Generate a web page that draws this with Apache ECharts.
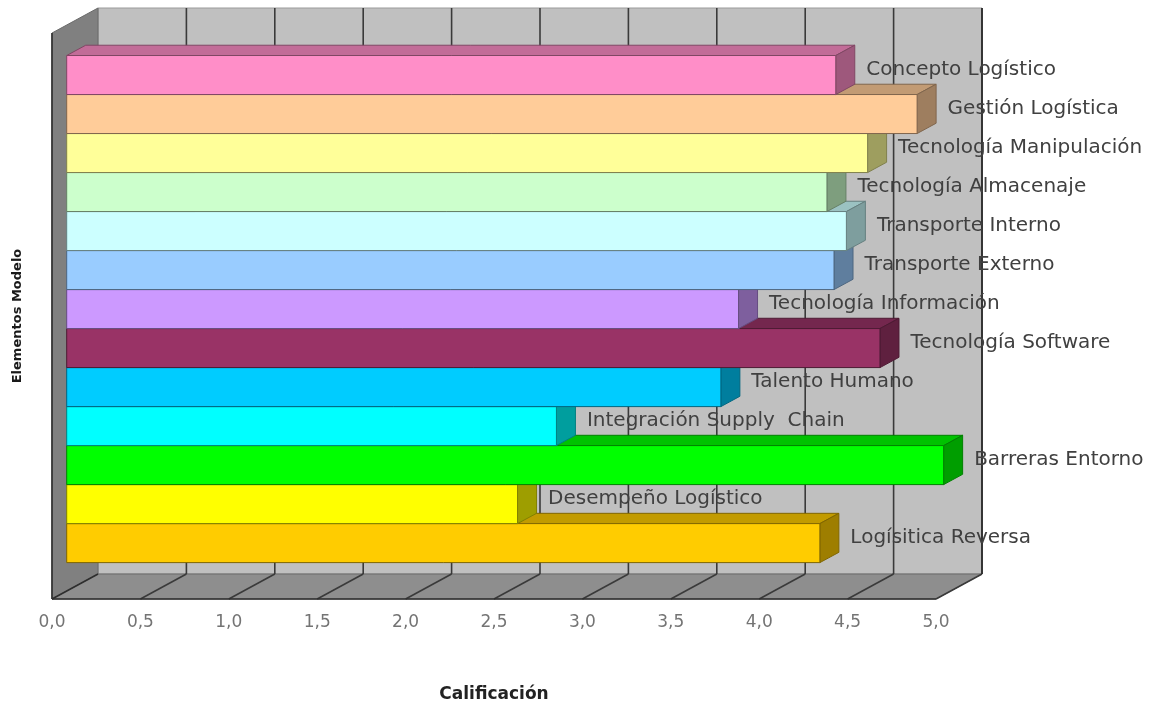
<!DOCTYPE html>
<html>
<head>
<meta charset="utf-8">
<script src="https://cdn.jsdelivr.net/npm/echarts@6.0.0/dist/echarts.min.js"></script>
<style>
  html, body { margin: 0; padding: 0; background: #ffffff; }
  #main { width: 1166px; height: 708px; }
</style>
</head>
<body>
<div id="main"></div>
<script>
// Model elements (top to bottom) and their ratings
const categories = [
  'Concepto Logístico',
  'Gestión Logística',
  'Tecnología Manipulación',
  'Tecnología Almacenaje',
  'Transporte Interno',
  'Transporte Externo',
  'Tecnología Información',
  'Tecnología Software',
  'Talento Humano',
  'Integración Supply  Chain',
  'Barreras Entorno',
  'Desempeño Logístico',
  'Logísitica Reversa'
];
const scores = [4.35, 4.81, 4.53, 4.30, 4.41, 4.34, 3.80, 4.60, 3.70, 2.77, 4.96, 2.55, 4.26];
const barColors = [
  '#ff8ec8', '#ffcc99', '#ffff99', '#ccffcc', '#ccffff', '#99ccff', '#cc99ff',
  '#993366', '#00ccff', '#00ffff', '#00ff00', '#ffff00', '#ffcc00'
];
// value-axis ticks (0,0 … 5,0)
const xTicks = [0, 0.5, 1, 1.5, 2, 2.5, 3, 3.5, 4, 4.5, 5];

// 3D box geometry (pixel offsets for depth)
const Y_MIN = -1.28, Y_MAX = 13.23;
const WALL = { dx: 46, dy: -25 };       // back plane offset from the front plane
const FRONT = { dx: 14.7, dy: -7.9 };   // bar front faces
const BAR_DEPTH = { dx: 19, dy: -10.3 };// bar thickness in depth

function shade(hex, k) {
  const n = parseInt(hex.slice(1), 16);
  const r = Math.round(((n >> 16) & 255) * k);
  const g = Math.round(((n >> 8) & 255) * k);
  const b = Math.round((n & 255) * k);
  return 'rgb(' + r + ',' + g + ',' + b + ')';
}

const chart = echarts.init(document.getElementById('main'), null, { renderer: 'canvas' });

const wallSeries = {
  type: 'custom',
  silent: true,
  z: 1,
  clip: false,
  data: [[0, 0]],
  renderItem: function (params, api) {
    const f = (v, y) => api.coord([v, y]);
    const b = (v, y) => { const p = api.coord([v, y]); return [p[0] + WALL.dx, p[1] + WALL.dy]; };
    const xMax = xTicks[xTicks.length - 1];
    const children = [];
    // back wall
    children.push({ type: 'polygon', z2: 1,
      shape: { points: [b(0, Y_MIN), b(xMax, Y_MIN), b(xMax, Y_MAX), b(0, Y_MAX)] },
      style: { fill: '#c0c0c0', stroke: '#9a9a9a', lineWidth: 1 } });
    // left side wall
    children.push({ type: 'polygon', z2: 1,
      shape: { points: [f(0, Y_MIN), b(0, Y_MIN), b(0, Y_MAX), f(0, Y_MAX)] },
      style: { fill: '#808080', stroke: '#6a6a6a', lineWidth: 1 } });
    // floor
    children.push({ type: 'polygon', z2: 1,
      shape: { points: [f(0, Y_MAX), b(0, Y_MAX), b(xMax, Y_MAX), f(xMax, Y_MAX)] },
      style: { fill: '#8e8e8e', stroke: '#6a6a6a', lineWidth: 1 } });
    // gridlines on back wall and floor
    xTicks.forEach(function (v) {
      if (v === 0) return;
      const t = b(v, Y_MIN), u = b(v, Y_MAX), w = f(v, Y_MAX);
      children.push({ type: 'line', z2: 2,
        shape: { x1: t[0], y1: t[1], x2: u[0], y2: u[1] },
        style: { stroke: '#3a3a3a', lineWidth: 1.6 } });
      children.push({ type: 'line', z2: 2,
        shape: { x1: u[0], y1: u[1], x2: w[0], y2: w[1] },
        style: { stroke: '#3a3a3a', lineWidth: 1.6 } });
    });
    // dark box edges
    const edges = [
      [f(0, Y_MIN), f(0, Y_MAX)],
      [f(0, Y_MAX), f(xMax, Y_MAX)],
      [b(0, Y_MAX), f(0, Y_MAX)],
      [b(xMax, Y_MIN), b(xMax, Y_MAX)]
    ];
    edges.forEach(function (e) {
      children.push({ type: 'line', z2: 3,
        shape: { x1: e[0][0], y1: e[0][1], x2: e[1][0], y2: e[1][1] },
        style: { stroke: '#2e2e2e', lineWidth: 1.6 } });
    });
    return { type: 'group', children: children };
  }
};

const barSeries = {
  type: 'custom',
  silent: true,
  z: 2,
  clip: false,
  encode: { x: 0, y: 1 },
  data: scores.map(function (v, i) { return [v, i]; }),
  renderItem: function (params, api) {
    const v = api.value(0), i = api.value(1);
    const s = api.coord([0, i]), e = api.coord([v, i]);
    const h = api.size([0, 1])[1];
    const x1 = s[0] + FRONT.dx, x2 = e[0] + FRONT.dx;
    const yt = s[1] - h / 2 + FRONT.dy, yb = s[1] + h / 2 + FRONT.dy;
    const dx = BAR_DEPTH.dx, dy = BAR_DEPTH.dy;
    const color = barColors[i];
    const edge = shade(color, 0.5);
    const base = (categories.length - i) * 4 + 10;
    return {
      type: 'group',
      children: [
        { type: 'polygon', z2: base,
          shape: { points: [[x1, yt], [x2, yt], [x2 + dx, yt + dy], [x1 + dx, yt + dy]] },
          style: { fill: shade(color, 0.76), stroke: edge, lineWidth: 1 } },
        { type: 'polygon', z2: base + 1,
          shape: { points: [[x2, yt], [x2 + dx, yt + dy], [x2 + dx, yb + dy], [x2, yb]] },
          style: { fill: shade(color, 0.62), stroke: edge, lineWidth: 1 } },
        { type: 'rect', z2: base + 2,
          shape: { x: x1, y: yt, width: x2 - x1, height: yb - yt },
          style: { fill: color, stroke: edge, lineWidth: 1 } },
        { type: 'text', z2: 1000,
          x: x2 + dx / 2 + 21, y: (yt + yb) / 2 + dy / 2,
          style: { text: categories[i], fill: '#404040', fontSize: 20,
                   fontFamily: 'DejaVu Sans', align: 'left', verticalAlign: 'middle' } }
      ]
    };
  }
};

chart.setOption({
  animation: false,
  backgroundColor: '#ffffff',
  grid: { left: 52, top: 33, width: 884, height: 572, containLabel: false },
  xAxis: {
    type: 'value', min: 0, max: 5, interval: 0.5,
    axisLine: { show: false }, axisTick: { show: false }, splitLine: { show: false },
    axisLabel: {
      formatter: function (v) { return v.toFixed(1).replace('.', ','); },
      fontFamily: 'DejaVu Sans', fontSize: 17, color: '#747474', margin: 15
    },
    name: 'Calificación', nameLocation: 'middle', nameGap: 87,
    nameTextStyle: { fontFamily: 'DejaVu Sans', fontWeight: 'bold', fontSize: 17, color: '#222222' }
  },
  yAxis: {
    type: 'value', inverse: true, min: Y_MIN, max: Y_MAX,
    axisLine: { show: false }, axisTick: { show: false }, splitLine: { show: false },
    axisLabel: { show: false },
    name: 'Elementos Modelo', nameLocation: 'middle', nameGap: 28, nameRotate: 90,
    nameTextStyle: { fontFamily: 'DejaVu Sans', fontWeight: 'bold', fontSize: 13, color: '#1a1a1a' }
  },
  series: [wallSeries, barSeries]
});
</script>
</body>
</html>
